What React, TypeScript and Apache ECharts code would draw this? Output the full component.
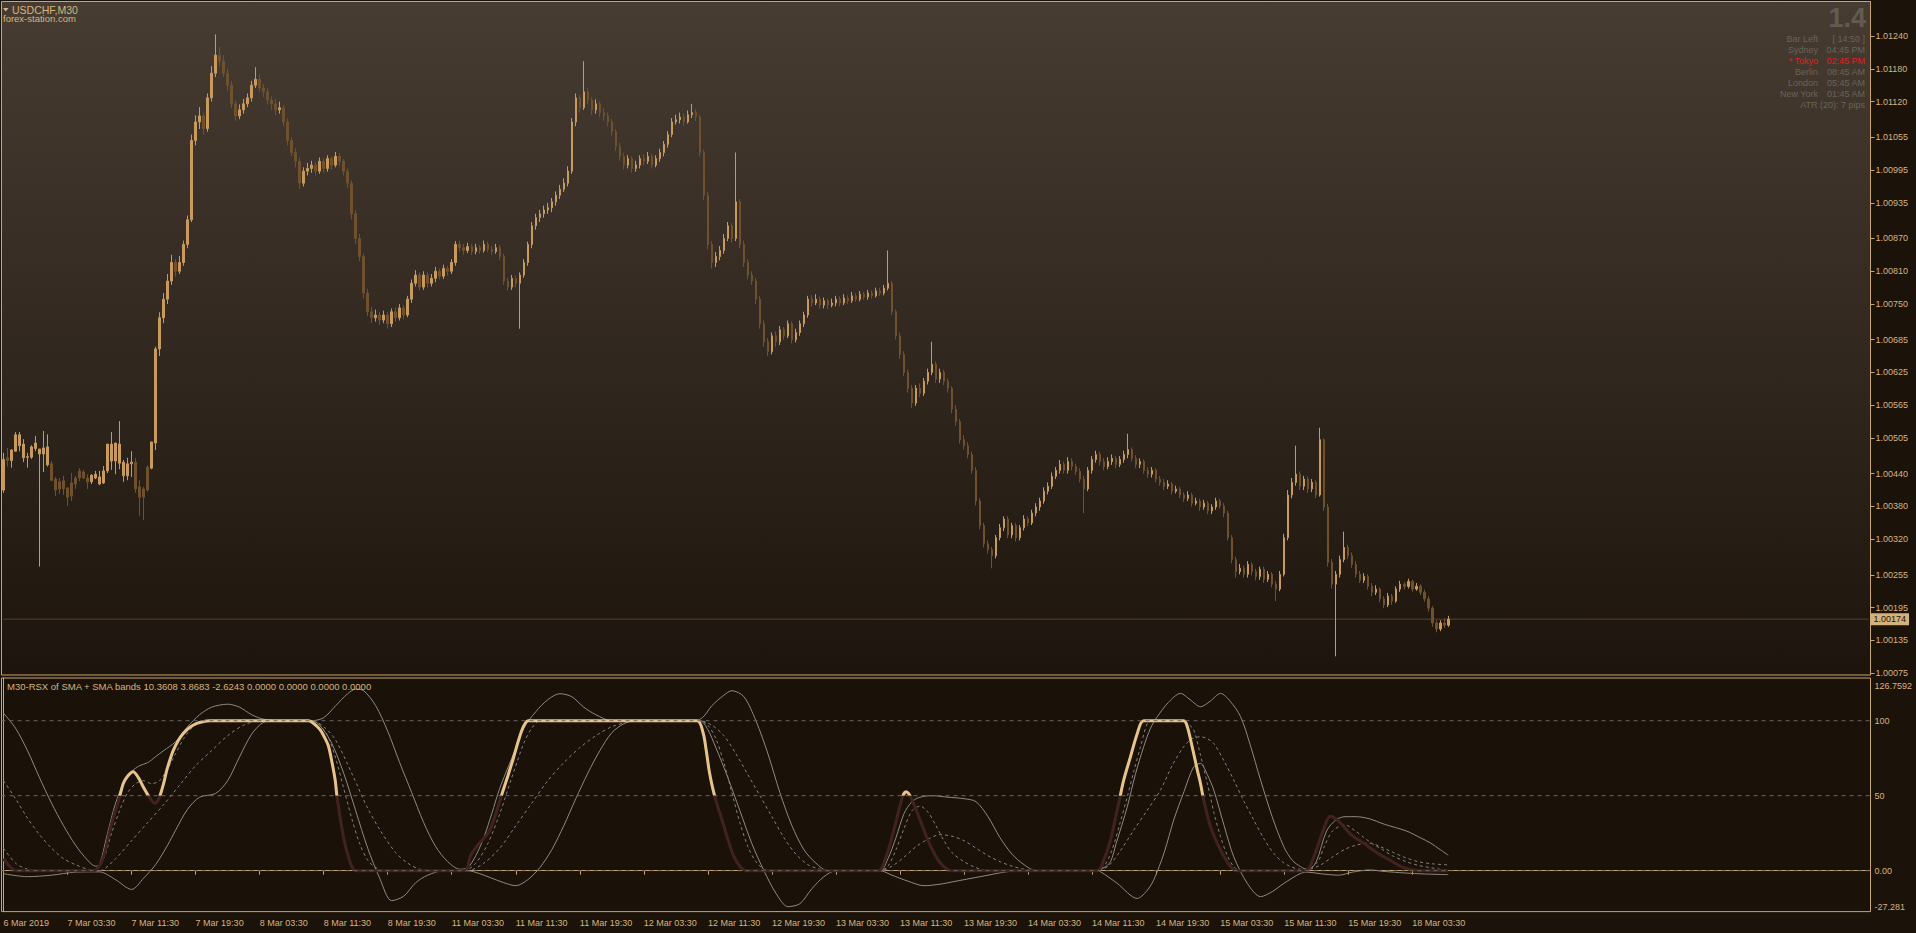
import React, { useEffect, useRef } from "react";
import * as echarts from "echarts";

// ---------- price data (points above 1.00000, 1 point = 0.00001) ----------
const OPEN = [
  410,469,464,481,491,469,470,470,486,476,476,456,458,430,425,427,414,423,432,445,443,432,425,432,421,423,445,463,463,459,436,436,458,461,416,412,452,450,496,
  668,725,759,792,826,810,826,859,904,1049,
  1083,1094,1071,1127,1172,1205,1194,1172,1150,1116,
  1094,1105,1116,1127,1150,1161,1145,1138,1123,1116,
  1105,1109,1083,1049,1027,1011,971,993,998,1004,
  993,1011,998,1016,1004,1020,1011,993,971,915,
  870,837,770,736,725,730,721,730,714,736,
  725,743,730,759,788,803,781,803,788,797,
  810,801,815,810,826,859,853,848,855,846,
  853,848,859,850,846,853,837,792,781,797,
  788,803,826,859,893,908,915,922,926,937,
  949,960,971,993,1083,1127,1109,1138,1123,1105,
  1116,1100,1094,1083,1065,1038,1020,1004,1016,998,
  1004,1016,1011,1020,1004,1016,1027,1042,1060,1083,
  1087,1092,1083,1096,1100,1092,1027,949,859,826,
  837,848,870,893,870,937,859,826,803,792,
  759,714,681,663,692,681,703,692,714,685,
  698,714,730,759,752,759,748,756,748,752,
  759,752,761,756,765,759,768,763,770,765,
  774,770,779,788,736,692,658,625,596,569,
  596,587,609,625,640,613,625,609,596,558,
  535,502,491,475,446,390,345,312,301,290,
  323,341,357,328,345,323,341,357,350,368,
  379,390,408,417,435,446,457,446,462,453,
  444,430,412,446,466,475,462,453,462,468,
  457,466,475,484,468,457,462,446,439,446,
  430,424,417,421,408,412,401,395,401,386,
  390,379,386,372,379,390,381,368,323,283,
  261,267,256,274,261,252,265,247,256,238,
  229,256,323,401,424,439,417,430,412,424,
  401,502,379,278,238,256,283,305,290,274,
  256,245,252,234,223,229,211,200,216,207,
  229,238,234,243,229,234,223,211,194,167,156,167,163,
];
const HIGH = [
  478,487,485,516,516,503,478,492,509,485,518,512,463,434,432,436,414,441,436,450,447,439,439,445,445,454,494,516,496,536,465,469,481,469,428,416,455,498,672,
  735,770,805,840,832,838,866,912,1060,1095,
  1110,1100,1135,1185,1243,1220,1205,1180,1158,1122,
  1115,1125,1135,1158,1183,1170,1152,1145,1130,1125,
  1120,1114,1090,1055,1035,1018,1000,1008,1012,1010,
  1018,1016,1022,1020,1028,1026,1015,998,976,922,
  878,842,778,745,740,736,738,735,742,744,
  750,748,765,795,812,808,810,808,805,818,
  815,822,820,832,865,866,860,862,860,860,
  858,866,864,856,860,858,842,798,803,802,
  808,832,864,900,915,922,930,935,944,956,
  968,980,1002,1090,1135,1132,1194,1145,1128,1124,
  1120,1108,1100,1088,1070,1045,1026,1022,1020,1012,
  1022,1024,1028,1025,1022,1034,1048,1066,1090,1096,
  1100,1098,1104,1116,1106,1096,1032,955,865,845,
  856,878,900,898,1027,942,866,832,810,798,
  765,720,688,698,700,710,708,720,718,705,
  720,736,765,766,768,764,762,760,760,765,
  764,768,766,772,770,774,772,776,775,780,
  780,785,848,792,740,698,664,630,602,602,
  605,615,632,681,645,632,630,614,600,565,
  540,510,498,480,452,395,350,318,306,328,
  348,362,362,350,350,346,364,362,374,386,
  396,415,424,442,452,465,462,470,468,458,
  450,436,452,472,482,480,468,470,475,472,
  472,482,513,488,474,468,466,452,452,450,
  436,430,428,425,418,416,406,408,405,396,
  394,392,390,384,396,394,386,372,328,288,
  275,272,280,278,266,270,270,262,260,244,
  262,330,410,432,491,444,436,435,430,428,
  524,505,385,284,262,290,334,310,296,280,
  262,258,256,240,236,232,216,222,220,234,
  244,242,248,246,240,238,228,216,198,172,172,175,180,
];
const LOW = [
  405,453,451,480,481,461,451,467,481,270,443,453,426,399,403,401,381,390,412,426,430,412,421,430,419,421,441,447,439,448,425,428,434,405,363,355,407,448,483,
  655,715,750,785,800,805,820,852,900,1040,
  1070,1060,1065,1120,1165,1185,1165,1140,1108,1085,
  1088,1098,1110,1120,1145,1138,1128,1115,1105,1095,
  1098,1075,1040,1020,1000,960,965,985,990,985,
  988,990,992,996,1000,1002,985,962,905,860,
  828,760,728,715,718,712,715,705,708,718,
  720,722,726,752,782,775,776,780,782,790,
  795,796,802,805,820,846,840,843,840,841,
  842,844,845,840,842,830,785,775,776,780,
  705,798,820,852,886,900,908,915,918,930,
  942,955,965,988,1075,1100,1105,1115,1096,1098,
  1092,1085,1075,1058,1030,1012,996,998,990,992,
  998,1004,1006,998,1000,1010,1020,1036,1055,1078,
  1080,1076,1080,1090,1085,1020,940,850,815,818,
  830,842,865,862,865,852,818,795,785,750,
  705,672,655,658,672,675,685,688,678,680,
  692,708,725,745,748,742,742,740,744,746,
  746,748,750,752,754,755,758,758,760,762,
  765,766,775,730,685,650,618,588,560,564,
  580,582,603,620,606,606,602,588,550,528,
  495,484,468,440,382,338,305,294,267,285,
  318,335,322,322,316,318,336,344,346,362,
  372,385,402,412,430,440,440,440,446,438,
  424,368,408,440,460,455,446,448,456,450,
  452,460,468,462,450,450,440,432,433,424,
  418,410,412,402,404,395,388,390,380,382,
  372,374,366,366,374,376,360,318,276,250,
  256,250,250,254,245,246,240,242,232,207,
  225,252,318,395,418,410,410,405,406,395,
  398,372,270,230,106,250,278,284,268,250,
  240,240,228,216,218,205,194,196,200,204,
  224,228,230,224,226,218,206,188,160,150,152,158,160,
];
const CLOSE = [
  466,464,483,511,511,494,471,489,496,485,487,489,428,410,412,412,397,399,421,432,432,425,437,439,434,445,494,494,496,494,461,458,461,412,397,397,410,498,668,
  725,759,792,826,810,826,859,904,1049,1083,
  1094,1071,1127,1172,1205,1194,1172,1150,1116,1094,
  1105,1116,1127,1150,1161,1145,1138,1123,1116,1105,
  1109,1083,1049,1027,1011,971,993,998,1004,993,
  1011,998,1016,1004,1020,1011,993,971,915,870,
  837,770,736,725,730,721,730,714,736,725,
  743,730,759,788,803,781,803,788,797,810,
  801,815,810,826,859,853,848,855,846,853,
  848,859,850,846,853,837,792,781,797,788,
  803,826,859,893,908,915,922,926,937,949,
  960,971,993,1083,1127,1109,1138,1123,1105,1116,
  1100,1094,1083,1065,1038,1020,1004,1016,998,1004,
  1016,1011,1020,1004,1016,1027,1042,1060,1083,1087,
  1092,1083,1096,1100,1092,1027,949,859,826,837,
  848,870,893,870,937,859,826,803,792,759,
  714,681,663,692,681,703,692,714,685,698,
  714,730,759,752,759,748,756,748,752,759,
  752,761,756,765,759,768,763,770,765,774,
  770,779,788,736,692,658,625,596,569,596,
  587,609,625,640,613,625,609,596,558,535,
  502,491,475,446,390,345,312,301,290,323,
  341,357,328,345,323,341,357,350,368,379,
  390,408,417,435,446,457,446,462,453,444,
  430,412,446,466,475,462,453,462,468,457,
  466,475,484,468,457,462,446,439,446,430,
  424,417,421,408,412,401,395,401,386,390,
  379,386,372,379,390,381,368,323,283,261,
  267,256,274,261,252,265,247,256,238,229,
  256,323,401,424,439,417,430,412,424,401,
  502,379,278,238,256,283,305,290,274,256,
  245,252,234,223,229,211,200,216,207,229,
  238,234,243,229,234,223,211,194,167,156,167,163,174,
];
const LAST_PRICE = 1.00174;

// ---------- axes ----------
const SLOT_COUNT = 467; // bar slots across the window (bars + right shift)
const LABEL_STEP = 16;
const TIME_LABELS = [
  "6 Mar 2019", "7 Mar 03:30", "7 Mar 11:30", "7 Mar 19:30", "8 Mar 03:30", "8 Mar 11:30",
  "8 Mar 19:30", "11 Mar 03:30", "11 Mar 11:30", "11 Mar 19:30", "12 Mar 03:30", "12 Mar 11:30",
  "12 Mar 19:30", "13 Mar 03:30", "13 Mar 11:30", "13 Mar 19:30", "14 Mar 03:30", "14 Mar 11:30",
  "14 Mar 19:30", "15 Mar 03:30", "15 Mar 11:30", "15 Mar 19:30", "18 Mar 03:30",
];
const PRICE_TICKS = [
  1.0124, 1.0118, 1.0112, 1.01055, 1.00995, 1.00935, 1.0087, 1.0081, 1.0075, 1.00685,
  1.00625, 1.00565, 1.00505, 1.0044, 1.0038, 1.0032, 1.00255, 1.00195, 1.00135, 1.00075,
];
const IND_TICKS = [-27.281, 0, 50, 100, 126.7592];
const IND_TICK_TEXT = ["-27.281", "0.00", "50", "100", "126.7592"];
const IND_LEVELS = [100, 50, 0];
const RSX_SPLIT = 50;

// ---------- indicator lines: [bar index, value] ----------
const RSX = [
  [0,8],[1.5,3],[3,0],[22.5,0],[24.1,3.8],[25.3,12],[26.6,27],[27.7,38],[28.7,46],[29.9,58],[31,63],[32.4,66],
  [33.7,62],[34.9,56],[36.2,50],[37.1,46.5],[37.9,45],[38.5,46.5],[39.1,50],[40,58],[40.8,67],[41.6,74],[42.4,80],
  [43.6,86.5],[44.9,91.5],[46.5,95.5],[48.3,98.2],[50,99.5],[51.6,100],[76.2,100],[77.6,98],[79.1,94],[80.2,89],
  [81.2,83],[82.1,72],[82.9,60],[83.3,50],[84.5,29],[85.3,18],[86.2,9],[87,3],[87.9,0],[115.2,0],[116.7,10],
  [118.5,17],[121.3,26],[123,38],[124.4,50],[126,63],[127.4,75],[128.7,87],[129.9,96],[131.1,100],[173.3,100],
  [174.8,92],[175.6,80],[176.3,67],[177.2,55],[178.3,44],[179.4,35],[181,21],[182.4,10],[184,3],[185.5,0],
  [218.5,0],[220.6,10],[222.8,30.6],[224.6,49],[225.5,52.6],[226.7,49],[228.9,34.6],[231.3,18.4],[233.8,6],
  [235.5,1.5],[236.8,0],[273.3,0],[274.9,7],[276.6,20.4],[277.9,36],[278.9,48.2],[279.9,60.4],[281.6,76],
  [283.3,91.5],[284.9,100],[294.9,100],[295.8,96],[297,82.7],[298.3,67],[299.1,58],[299.9,47],[301.6,29.3],
  [304.1,13.8],[306.6,2.7],[308.3,0],[325.4,0],[327.5,10],[329.7,26.5],[331.5,36.3],[333.6,33],[336.7,24],
  [339.8,18.4],[342.8,12.7],[345.9,7.8],[349.8,2],[353.5,0],[361,0],
];
const BAND_UP = [
  [0,105],[3,95],[6,80],[9,62],[12,45],[15,30],[18,17],[21,7],[23,3],[24,4],[26,25],[28,45],[30,58],[32,66],
  [34,70],[36,72],[38,76],[40,80],[43,86],[46,96],[49,104],[52,109],[56,111],[59,109],[62,104],[65,101],[70,100],
  [77,100],[80,102],[83,110],[86,118],[88,121],[90,120],[93,110],[96,93],[99,72],[102,52],[105,32],[108,16],
  [111,6],[114,1],[116,2],[118,10],[120,22],[122,38],[124,55],[127,75],[130,95],[133,106],[136,114],[139,118],
  [142,116],[145,109],[148,104],[152,100],[173,100],[175,103],[177,110],[180,117],[182,120],[185,116],[188,100],
  [191,78],[194,52],[197,30],[200,14],[203,5],[206,0],[219,0],[221,8],[223,22],[225,38],[227,46],[229,49],
  [232,50],[236,49],[240,48],[243,46],[246,36],[249,22],[252,11],[255,4],[258,0],[273,0],[275,2],[276.6,6],
  [278,18],[280.8,42.7],[282.8,64],[284.9,82.7],[286.6,95],[288.3,102.7],[291,112],[294.1,118.2],[296.5,114],
  [299.1,109.3],[301.5,113],[304.1,118.2],[306.5,113],[309.1,102.7],[311.5,84],[314.1,60.4],[317,36],[319.9,16],
  [322,7],[324.1,2.7],[326,0.5],[328,6],[330.6,26.5],[333,34],[335.2,36],[338,36],[341.3,34.6],[345,31],
  [350.5,26.5],[354,22],[356.6,18.4],[359,14],[361,10.36],
];
const BAND_MID = [
  [0,60],[3,48],[6,35],[9,24],[12,15],[15,8],[18,4],[21,1],[24,0],[28,8],[32,20],[36,32],[40,44],[44,57],
  [48,70],[52,80],[56,90],[60,97],[64,100],[77,100],[80,96],[83,87],[87.4,62.7],[90.8,42.7],[94.1,27],[98,12],
  [101,5],[104,1],[108,0],[116,0],[120,5],[124,15],[128,30],[132,45],[136,60],[140,72],[144,82],[148,90],
  [152,96],[156,99],[160,100],[174,100],[177,97],[180,90],[183,78],[186,64],[189,50],[192,36],[195,22],
  [198,11],[201,4],[204,1],[207,0],[219,0],[222,3],[225,9],[228,16],[231,21],[234,24],[237,23],[240,20],
  [243,15],[246,10],[249,6],[252,3],[255,1],[258,0],[273,0],[276,3],[279,13],[282.4,27],[285.7,40],
  [289.1,53.8],[292,70],[294.9,82.7],[297,88],[299.1,89.3],[300.8,88],[302.4,84.9],[305,73],[307.4,60.4],
  [310,46],[312.4,33.8],[315,21],[317.4,11.5],[319.5,6],[321.6,2.7],[324,1],[326,1],[329,3.7],[332,9],
  [335.2,14.3],[338,17],[341.3,18.4],[344,16],[347.4,12],[350,9],[353.5,6],[357,4.6],[361,3.87],
];
const BAND_LOW = [
  [0,-2],[6,-4],[12,-3],[18,-1],[24,-0.8],[28,-6],[32,-12.5],[35,-5],[38,4],[41,17],[43,27],[46,41],[49,49],
  [53,51.5],[56,60],[59,76],[62,91],[65,99],[68,100],[77,100],[79,97],[82,85],[85,65],[88,40],[91,15],[94,-5],
  [97,-20],[100,-17],[103,-8],[106,-3],[110,0],[116,0],[119,-2],[122,-5],[125,-8],[128,-10],[131,-6],[134,2],
  [137,14],[140,30],[143,48],[146,65],[149,80],[152,92],[155,98],[158,100],[174,100],[176,94],[178,82],
  [181,62],[184,40],[187,18],[190,0],[193,-15],[196,-24],[199,-22],[202,-12],[205,-4],[208,0],[219,0],
  [222,-3],[226,-7],[230,-10],[234,-9],[238,-7],[242,-5],[246,-3],[250,-1],[254,0],[273,0],[274.1,-0.7],
  [278.3,-8.5],[283.3,-18.5],[285.5,-14],[287.4,-6.2],[290,12],[292.4,33.8],[295,53],[297.4,69.3],[299.1,71.5],
  [300.8,64],[302.4,53.8],[305,30],[307.4,9.3],[310.8,-8.5],[314.1,-17.3],[317,-14],[319.9,-8.5],[324.1,-1.8],
  [326,-1],[329,-2],[333.6,-3],[337,-1],[341.3,0.5],[345,-0.5],[350,-1.5],[355,-2.2],[361,-2.62],
];
const SIGNAL = [
  [0,15],[3,5],[6,1],[9,0],[22,0],[25,8],[27,25],[29,40],[31,52],[33,58],[35,60],[37,58],[39,60],[41,68],
  [43,78],[45,88],[47,95],[49,99],[51,100],[77,100],[79,97],[81,90],[83,75],[85,55],[87,35],[89,18],[91,7],
  [93,2],[95,0],[115,0],[118,5],[121,18],[124,38],[127,62],[130,85],[132,95],[134,100],[174,100],[176,97],
  [178,88],[180,72],[182,52],[184,32],[186,16],[188,6],[190,1],[192,0],[219,0],[221,3],[223,14],[225,28],
  [227,40],[229,43],[231,39],[233,30],[235,20],[237,12],[240,6],[243,2],[246,0],[273,0],[275,3],[277,14],
  [279,32],[280.8,49.3],[282.5,67],[284.1,82.7],[285.8,98.2],[287,100],[294.9,100],[296,98],[297.4,93.8],
  [299,78],[300.8,58.2],[302.5,38],[304.1,22.7],[305.8,10],[307.4,2.7],[309.1,0],[325,0],[328.4,6],[330,16],
  [332.1,26.5],[335.2,30.6],[337.5,27],[339.8,22.4],[342,18],[344.4,14.3],[347,10],[350.5,6],[353.5,3.5],
  [356.6,2],[361,0],
];
const INDICATOR_TITLE = "M30-RSX of SMA + SMA bands 10.3608 3.8683 -2.6243 0.0000 0.0000 0.0000 0.0000";

// ---------- info panel ----------
const INFO_ROWS = [
  { label: "Bar Left", value: "[ 14:50 ]", red: false },
  { label: "Sydney", value: "04:45 PM", red: false },
  { label: "* Tokyo", value: "02:45 PM", red: true },
  { label: "Berlin", value: "08:45 AM", red: false },
  { label: "London", value: "05:45 AM", red: false },
  { label: "New York", value: "01:45 AM", red: false },
];
const ATR_TEXT = "ATR (20): 7 pips";
const SPREAD_TEXT = "1.4";

const FONT = "'Liberation Sans', Arial, sans-serif";
const FRAME = "#c9a46c";
const LABEL = "#d8b47c";
const BULL = "#c99a5e";
const BEAR = "#6f512e";
const GREY = "#8e8a85";
const DASH = "#85817c";
const LEVEL = "#6c6763";
const INFO = "#6a635a";
const RSX_UP = "#e8c48b";
const RSX_DOWN = "#42221f";

// layout of the two panes (pixels)
const MAIN_TOP = 1.5, MAIN_H = 673.5, MAIN_MIN = 1.000719, MAIN_MAX = 1.013031;
const IND_TOP = 678, IND_H = 233.6, IND_MIN = -27.281, IND_MAX = 128.47;
const PANE_LEFT = 1.5, PANE_W = 1869;

export default function App() {
  const ref = useRef<HTMLDivElement | null>(null);

  useEffect(() => {
    if (!ref.current) return;
    const chart = echarts.init(ref.current, null, { renderer: "svg" });

    const toPrice = (v: number) => +(1 + v / 100000).toFixed(5);
    const candles = CLOSE.map((c, i) => [toPrice(OPEN[i]), toPrice(c), toPrice(LOW[i]), toPrice(HIGH[i])]);
    const slots = Array.from({ length: SLOT_COUNT }, (_, i) => String(i));
    const showLabel = (i: number) => i % LABEL_STEP === 0 && i / LABEL_STEP < TIME_LABELS.length;
    const splitY = IND_TOP + ((IND_MAX - RSX_SPLIT) * IND_H) / (IND_MAX - IND_MIN);

    const infoGraphics: any[] = [];
    INFO_ROWS.forEach((r, k) => {
      const y = 38.7 + k * 11;
      const fill = r.red ? "#ea1a1e" : INFO;
      infoGraphics.push({
        type: "text", x: 1818, y,
        style: { text: r.label, fill, font: `9px ${FONT}`, align: "right", verticalAlign: "middle" },
      });
      infoGraphics.push({
        type: "text", x: 1865, y,
        style: { text: r.value, fill, font: `9px ${FONT}`, align: "right", verticalAlign: "middle" },
      });
    });

    const lineBase = {
      type: "line",
      xAxisIndex: 2,
      yAxisIndex: 1,
      symbol: "none",
      smooth: 0.3,
      silent: true,
    };

    const titleStyle = (size: number) => ({ color: LABEL, fontSize: size, fontWeight: "normal", fontFamily: FONT });

    const option: any = {
      animation: false,
      backgroundColor: "#1b1209",
      textStyle: { fontFamily: FONT },
      grid: [
        {
          left: PANE_LEFT, top: MAIN_TOP, width: PANE_W, height: MAIN_H, show: true,
          backgroundColor: {
            type: "linear", x: 0, y: 0, x2: 0, y2: 1,
            colorStops: [
              { offset: 0, color: "#473c32" },
              { offset: 1, color: "#1d150d" },
            ],
          },
          borderColor: FRAME, borderWidth: 1,
        },
        {
          left: PANE_LEFT, top: IND_TOP, width: PANE_W, height: IND_H, show: true,
          backgroundColor: "#1a1109", borderColor: FRAME, borderWidth: 1,
        },
      ],
      xAxis: [
        {
          type: "category", gridIndex: 0, data: slots, boundaryGap: true,
          axisLine: { show: false }, axisTick: { show: false }, axisLabel: { show: false }, splitLine: { show: false },
        },
        {
          type: "category", gridIndex: 1, data: slots, boundaryGap: true,
          axisLine: { show: true, lineStyle: { color: FRAME } },
          axisTick: { show: true, alignWithLabel: true, interval: (i: number) => showLabel(i), length: 4, lineStyle: { color: FRAME } },
          axisLabel: {
            interval: (i: number) => showLabel(i),
            formatter: (v: string) => TIME_LABELS[Number(v) / LABEL_STEP] ?? "",
            align: "left", color: LABEL, fontSize: 9, margin: 7, fontFamily: FONT,
          },
          splitLine: { show: false },
        },
        { type: "value", gridIndex: 1, min: -0.5, max: SLOT_COUNT - 0.5, show: false },
      ],
      yAxis: [
        {
          type: "value", gridIndex: 0, position: "right", min: MAIN_MIN, max: MAIN_MAX,
          splitLine: { show: false },
          axisLine: { show: true, lineStyle: { color: FRAME } },
          axisTick: { show: true, customValues: PRICE_TICKS, length: 4, lineStyle: { color: FRAME } },
          axisLabel: {
            customValues: PRICE_TICKS, formatter: (v: number) => v.toFixed(5),
            color: LABEL, fontSize: 9, margin: 5, fontFamily: FONT,
          },
        },
        {
          type: "value", gridIndex: 1, position: "right", min: IND_MIN, max: IND_MAX,
          splitLine: { show: false },
          axisLine: { show: true, lineStyle: { color: FRAME } },
          axisTick: { show: false },
          axisLabel: {
            customValues: IND_TICKS,
            formatter: (v: number) => {
              const k = IND_TICKS.findIndex((t) => Math.abs(t - v) < 1e-6);
              const txt = k >= 0 ? IND_TICK_TEXT[k] : String(v);
              if (k === IND_TICKS.length - 1) return `{top|${txt}}`;
              if (k === 0) return `{bot|${txt}}`;
              return `{mid|${txt}}`;
            },
            rich: {
              top: { color: LABEL, fontSize: 9, fontFamily: FONT, padding: [10, 0, 0, 0] },
              bot: { color: LABEL, fontSize: 9, fontFamily: FONT, padding: [0, 0, 10, 0] },
              mid: { color: LABEL, fontSize: 9, fontFamily: FONT },
            },
            color: LABEL, fontSize: 9, margin: 4,
          },
        },
      ],
      title: [
        { text: "USDCHF,M30", left: 12, top: 4, padding: 0, textStyle: titleStyle(10.5) },
        { text: "forex-station.com", left: 3, top: 13, padding: 0, textStyle: titleStyle(9.5) },
        { text: INDICATOR_TITLE, left: 7, top: 681.5, padding: 0, textStyle: titleStyle(9.5) },
      ],
      graphic: [
        { type: "polygon", shape: { points: [[3, 8], [8.5, 8], [5.75, 11.5]] }, style: { fill: LABEL } },
        {
          type: "text", x: 1866, y: 18,
          style: { text: SPREAD_TEXT, fill: "#625b52", font: `bold 27px ${FONT}`, align: "right", verticalAlign: "middle" },
        },
        ...infoGraphics,
        {
          type: "text", x: 1865, y: 38.7 + 6 * 11,
          style: { text: ATR_TEXT, fill: INFO, font: `9px ${FONT}`, align: "right", verticalAlign: "middle" },
        },
      ],
      series: [
        {
          type: "candlestick", xAxisIndex: 0, yAxisIndex: 0, data: candles, barWidth: 2, silent: true,
          itemStyle: { color: BULL, color0: BEAR, borderColor: BULL, borderColor0: BEAR, borderWidth: 1 },
        },
        {
          ...lineBase, name: "RSX", data: RSX, z: 4,
          lineStyle: {
            width: 3,
            color: {
              type: "linear", global: true, x: 0, y: splitY - 0.5, x2: 0, y2: splitY + 0.5,
              colorStops: [
                { offset: 0, color: RSX_UP },
                { offset: 1, color: RSX_DOWN },
              ],
            },
          },
        },
        { ...lineBase, name: "Upper", data: BAND_UP, z: 3, lineStyle: { width: 1, color: GREY }, itemStyle: { color: GREY } },
        { ...lineBase, name: "Lower", data: BAND_LOW, z: 3, lineStyle: { width: 1, color: GREY }, itemStyle: { color: GREY } },
        { ...lineBase, name: "Middle", data: BAND_MID, z: 3, lineStyle: { width: 1, color: DASH, type: [3, 3] }, itemStyle: { color: DASH } },
        { ...lineBase, name: "Signal", data: SIGNAL, z: 3, lineStyle: { width: 1, color: DASH, type: [3, 3] }, itemStyle: { color: DASH } },
        // current price line (main pane)
        {
          type: "line", xAxisIndex: 0, yAxisIndex: 0, silent: true, symbol: "none", z: 1,
          data: slots.map((s) => [s, LAST_PRICE]),
          lineStyle: { color: "#5c3f28", width: 1 },
          endLabel: {
            show: true, formatter: LAST_PRICE.toFixed(5), distance: 2,
            color: "#21170c", backgroundColor: "#d4b27c", padding: [2, 3, 1, 3], fontSize: 9, fontFamily: FONT,
          },
        },
        // level lines of the indicator pane
        ...IND_LEVELS.map((lv) => ({
          type: "line", xAxisIndex: 2, yAxisIndex: 1, silent: true, symbol: "none", z: 6,
          data: [[-0.5, lv], [SLOT_COUNT - 0.5, lv]],
          lineStyle: { color: LEVEL, width: 1, type: [4, 4] },
        })),
      ],
    };

    chart.setOption(option);
    return () => chart.dispose();
  }, []);

  return (
    <div
      ref={ref}
      style={{ position: "fixed", left: 0, top: 0, width: 1916, height: 933, background: "#1b1209" }}
    />
  );
}
